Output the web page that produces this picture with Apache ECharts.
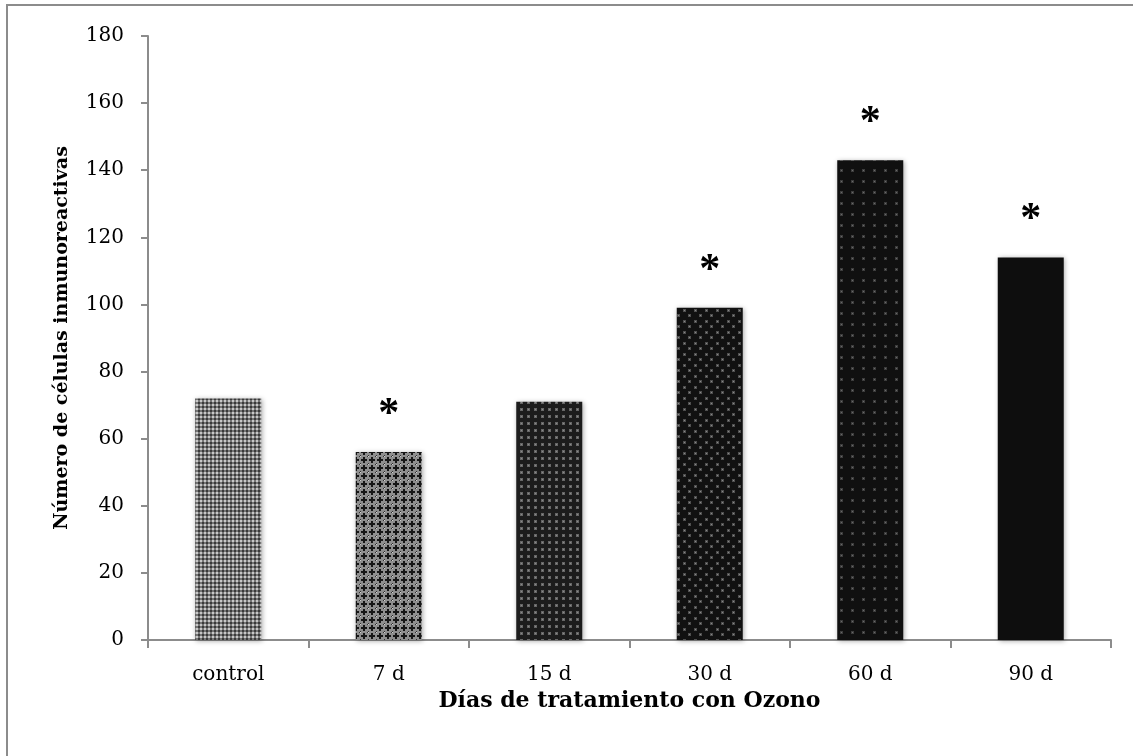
<!DOCTYPE html>
<html>
<head>
<meta charset="utf-8">
<script src="https://cdn.jsdelivr.net/npm/echarts@6/dist/echarts.min.js"></script>
<style>
  html, body { margin: 0; padding: 0; background: #fff; }
  #chart { width: 1133px; height: 756px; }
</style>
</head>
<body>
<div id="chart"></div>
<script>
// Immunoreactive cell counts per ozone treatment duration
const categories = ['control', '7 d', '15 d', '30 d', '60 d', '90 d'];
const cellCounts = [72, 56, 71, 99, 143, 114];
// Groups marked with an asterisk (significant vs control)
const significant = [false, true, false, true, true, true];
const yTicks = { min: 0, max: 180, step: 20 };

// Small tiled fill patterns, one per bar
function tile(w, h, draw) {
  const c = document.createElement('canvas');
  c.width = w; c.height = h;
  const g = c.getContext('2d');
  draw(g);
  return { image: c, repeat: 'repeat' };
}
const patterns = [
  tile(4, 4, g => { // fine checker
    g.fillStyle = '#767676'; g.fillRect(0, 0, 4, 4);
    g.fillStyle = '#c8c8c8'; g.fillRect(0, 0, 2, 2);
    g.fillStyle = '#3a3a3a'; g.fillRect(2, 2, 2, 2);
  }),
  tile(8, 8, g => { // plus lattice
    g.fillStyle = '#8e8e8e'; g.fillRect(0, 0, 8, 8);
    g.fillStyle = '#161616';
    g.fillRect(3, 1, 2, 6); g.fillRect(1, 3, 6, 2);
    g.fillStyle = '#333';
    g.fillRect(7, 0, 1, 1); g.fillRect(0, 7, 1, 1);
    g.fillStyle = '#cfcfcf'; g.fillRect(0, 0, 1, 1);
  }),
  tile(7, 7, g => { // grid of grey squares
    g.fillStyle = '#1c1c1c'; g.fillRect(0, 0, 7, 7);
    g.fillStyle = '#666'; g.fillRect(2, 2, 3, 3);
    g.fillStyle = '#8a8a8a'; g.fillRect(3, 3, 1, 1);
  }),
  tile(11, 11, g => { // staggered dots
    g.fillStyle = '#111'; g.fillRect(0, 0, 11, 11);
    g.fillStyle = '#4e4e4e';
    g.fillRect(1, 1, 3, 3); g.fillRect(6, 6, 3, 3);
    g.fillStyle = '#888';
    g.fillRect(2, 2, 1, 1); g.fillRect(7, 7, 1, 1);
  }),
  tile(11, 11, g => { // sparse dots
    g.fillStyle = '#101010'; g.fillRect(0, 0, 11, 11);
    g.fillStyle = '#3c3c3c'; g.fillRect(4, 4, 3, 3);
    g.fillStyle = '#6a6a6a'; g.fillRect(5, 5, 1, 1);
  }),
  '#0e0e0e'
];

const serif = '"DejaVu Serif", "Liberation Serif", serif';

const chart = echarts.init(document.getElementById('chart'));
chart.setOption({
  animation: false,
  backgroundColor: '#fff',
  graphic: [{
    type: 'polyline',
    shape: { points: [[7, 760], [7, 5], [1140, 5]] },
    style: { stroke: '#8c8c8c', lineWidth: 2, fill: null }
  }],
  grid: { left: 148, right: 22, top: 36, bottom: 116 },
  xAxis: {
    type: 'category',
    data: categories,
    boundaryGap: true,
    axisLine: { lineStyle: { color: '#8c8c8c', width: 2 } },
    axisTick: { show: true, alignWithLabel: false, length: 8, lineStyle: { color: '#8c8c8c', width: 2 } },
    axisLabel: { color: '#000', fontFamily: serif, fontSize: 20, margin: 25 },
    name: 'Días de tratamiento con Ozono',
    nameLocation: 'middle',
    nameGap: 49,
    nameTextStyle: { color: '#000', fontFamily: serif, fontSize: 22, fontWeight: 'bold' }
  },
  yAxis: {
    type: 'value',
    min: yTicks.min, max: yTicks.max, interval: yTicks.step,
    splitLine: { show: false },
    axisLine: { show: true, lineStyle: { color: '#8c8c8c', width: 2 } },
    axisTick: { show: true, length: 7, lineStyle: { color: '#8c8c8c', width: 2 } },
    axisLabel: { color: '#000', fontFamily: serif, fontSize: 20, margin: 24 },
    name: 'Número de células inmunoreactivas',
    nameLocation: 'middle',
    nameGap: 76,
    nameTextStyle: { color: '#000', fontFamily: serif, fontSize: 19, fontWeight: 'bold' }
  },
  series: [{
    type: 'bar',
    barWidth: 66,
    data: cellCounts.map((v, i) => ({
      value: v,
      itemStyle: { color: patterns[i] },
      label: {
        show: significant[i],
        position: 'top',
        distance: 16,
        formatter: '*',
        color: '#000',
        fontFamily: '"Liberation Serif", serif',
        fontSize: 42,
        fontWeight: 'bold'
      }
    })),
    itemStyle: {
      shadowBlur: 5,
      shadowColor: 'rgba(0,0,0,0.35)',
      shadowOffsetX: 1,
      shadowOffsetY: 1
    }
  }]
});
</script>
</body>
</html>
